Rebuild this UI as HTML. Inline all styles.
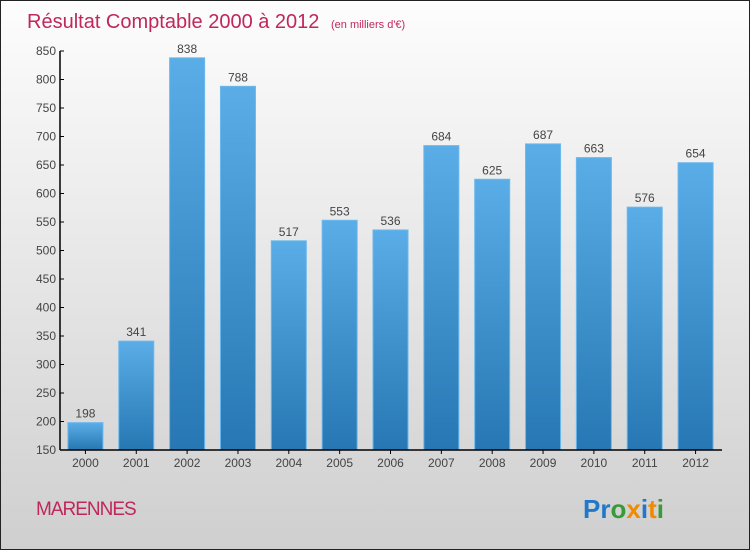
<!DOCTYPE html>
<html><head><meta charset="utf-8"><style>
body{margin:0}
#c{position:relative;width:748px;height:548px;border:1px solid #222;background:linear-gradient(#fdfdfd,#e6e6e6 50%,#cfcfcf);font-family:"Liberation Sans",sans-serif;overflow:hidden}
</style></head><body>
<div id="c">
<svg id="s" width="748" height="548">
<defs><linearGradient id="g" x1="0" y1="0" x2="0" y2="1"><stop offset="0" stop-color="#5aade6"/><stop offset="1" stop-color="#2677b3"/></linearGradient></defs>
<text x="26" y="27" font-size="20" fill="#c0275a">Résultat Comptable 2000 à 2012 <tspan font-size="11" dx="6">(en milliers d'€)</tspan></text>
<text x="35" y="514" font-size="19" fill="#c0275a" letter-spacing="-1">MARENNES</text>
<text x="582" y="517" font-size="26" font-weight="bold"><tspan fill="#1f78c8">Pr</tspan><tspan fill="#3a9a3a">o</tspan><tspan fill="#f08a00">x</tspan><tspan fill="#1f78c8">i</tspan><tspan fill="#f08a00">t</tspan><tspan fill="#3a9a3a">i</tspan></text>
<g id="plot"></g>
</svg>
</div>
<script>
const categories=["2000","2001","2002","2003","2004","2005","2006","2007","2008","2009","2010","2011","2012"];
const values=[198,341,838,788,517,553,536,684,625,687,663,576,654];
const ticks=[150,200,250,300,350,400,450,500,550,600,650,700,750,800,850];
const NS="http://www.w3.org/2000/svg";
const g=document.getElementById('plot');
const x0=59,x1=720,yMin=150,yMax=850,yB=449,yT=50;
const y=v=>yB-(v-yMin)/(yMax-yMin)*(yB-yT);
const step=(x1-x0)/categories.length;
const xc=i=>x0+step*(i+0.5);
function el(t,a,txt){const e=document.createElementNS(NS,t);for(const k in a)e.setAttribute(k,a[k]);if(txt!==undefined)e.textContent=txt;g.appendChild(e);return e;}
values.forEach((v,i)=>{
 const r=el('rect',{x:xc(i)-17.5,y:y(v),width:35,height:yB-y(v),fill:'url(#g)',stroke:'#6bb8ee','stroke-width':1});
 
 
 const t=el('text',{x:xc(i),y:y(v)-5,'text-anchor':'middle','font-size':12,fill:'#444'},v);
 
 
 const c=el('text',{x:xc(i),y:yB+17,'text-anchor':'middle','font-size':12,fill:'#444'},categories[i]);
 
 
 const tk=el('line',{x1:xc(i),x2:xc(i),y1:yB,y2:yB+4,stroke:'#000'});
 
 
});
ticks.forEach(v=>{
 const t=el('text',{x:x0-4,y:y(v)+4,'text-anchor':'end','font-size':12,fill:'#444'},v);
 
 
 const l=el('line',{x1:x0,x2:x0+4,y1:y(v),y2:y(v),stroke:'#000'});
 
 
});
const ya=el('line',{x1:x0,x2:x0,y1:yT,y2:yB,stroke:'#000','stroke-width':1.5});


const xa=el('line',{x1:x0,x2:x1+1,y1:yB,y2:yB,stroke:'#000','stroke-width':1.5});


</script>
</body></html>
